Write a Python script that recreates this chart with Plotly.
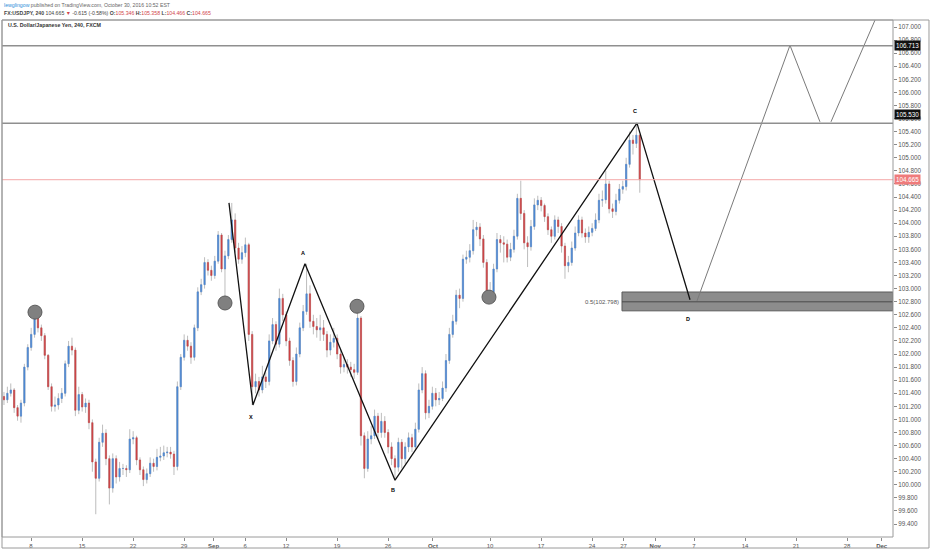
import plotly.graph_objects as go

# ---------------- data ----------------
# 8-hour bars on a trading-day axis (day 0 = Mon Aug 8, 2016)
BAR_START_DAY = -2.65
BARS_PER_DAY = 3
FIRST_OPEN = 101.35

close = [
    101.30, 101.40, 101.45, 101.18, 101.05, 101.25, 101.80, 102.10, 102.30, 102.55,
    102.40, 102.28, 101.98, 101.50, 101.20, 101.22, 101.32, 101.40, 101.85, 102.12,
    102.06, 101.14, 101.38, 101.19, 101.25, 100.95, 100.35, 100.10, 100.65, 100.79,
    100.40, 99.95, 100.40, 100.12, 100.25, 100.25, 100.23, 100.70, 100.72, 100.38,
    100.23, 100.08, 100.17, 100.33, 100.28, 100.42, 100.44, 100.49, 100.50, 100.47,
    100.28, 101.50, 101.95, 102.21, 102.12, 101.95, 102.40, 102.95, 103.06, 103.40,
    103.28, 103.20, 103.42, 103.82, 103.30, 103.50, 103.75, 104.05, 103.62, 103.45,
    103.55, 103.67, 102.30, 101.50, 101.58, 101.45, 101.65, 101.58, 102.20, 102.45,
    102.15, 102.85, 102.60, 102.20, 101.90, 101.58, 102.00, 102.40, 102.65, 102.92,
    102.50, 102.42, 102.37, 102.40, 102.30, 102.06, 102.18, 102.24, 102.00, 101.80,
    101.84, 101.80, 101.76, 101.72, 102.55, 100.75, 100.25, 100.70, 100.75, 101.05,
    100.80, 100.97, 100.80, 100.58, 100.40, 100.27, 100.65, 100.40, 100.58, 100.72,
    100.58, 100.85, 101.45, 101.70, 101.10, 101.20, 101.40, 101.30, 101.32, 101.48,
    101.90, 102.30, 102.50, 102.90, 102.85, 103.45, 103.48, 103.58, 103.90, 103.94,
    103.76, 103.40, 102.95, 102.95, 103.30, 103.75, 103.70, 103.68, 103.48, 103.60,
    103.80, 104.38, 104.15, 103.70, 103.64, 103.95, 104.28, 104.35, 104.27, 104.10,
    103.90, 103.80, 104.05, 103.95, 103.65, 103.35, 103.40, 103.62, 103.85, 104.05,
    103.85, 103.79, 103.86, 103.92, 104.05, 104.35, 104.36, 104.60, 104.22, 104.18,
    104.35, 104.52, 104.56, 104.90, 105.27, 105.22, 105.346, 104.665,
]
high = [
    101.42, 101.50, 101.55, 101.48, 101.22, 101.30, 101.85, 102.15, 102.40, 102.64,
    102.60, 102.45, 102.32, 102.00, 101.55, 101.35, 101.40, 101.48, 101.90, 102.20,
    102.25, 102.10, 101.50, 101.42, 101.32, 101.30, 101.00, 100.40, 100.72, 100.92,
    100.85, 100.45, 100.48, 100.45, 100.35, 100.32, 100.30, 100.85, 100.82, 100.75,
    100.42, 100.28, 100.25, 100.42, 100.40, 100.55, 100.58, 100.60, 100.58, 100.58,
    100.52, 101.58, 102.00, 102.30, 102.28, 102.18, 102.45, 103.02, 103.15, 103.48,
    103.45, 103.35, 103.50, 103.88, 103.85, 103.58, 103.82, 104.31, 104.15, 103.70,
    103.65, 103.78, 103.70, 102.35, 101.70, 101.65, 101.82, 101.72, 102.30, 102.55,
    102.50, 103.00, 102.92, 102.65, 102.25, 101.95, 102.10, 102.48, 102.75, 103.38,
    103.05, 102.60, 102.55, 102.60, 102.52, 102.35, 102.30, 102.40, 102.30, 102.08,
    101.95, 101.92, 101.88, 101.85, 102.73, 102.58, 100.80, 100.82, 100.90, 101.15,
    101.10, 101.10, 101.05, 100.85, 100.65, 100.45, 100.72, 100.70, 100.65, 100.80,
    100.78, 100.95, 101.55, 101.80, 101.75, 101.30, 101.50, 101.48, 101.42, 101.58,
    102.00, 102.40, 102.60, 102.98, 103.00, 103.52, 103.58, 103.68, 104.05, 104.02,
    104.00, 103.82, 103.45, 103.10, 103.38, 103.85, 103.82, 103.80, 103.75, 103.70,
    103.90, 104.45, 104.65, 104.20, 103.80, 104.05, 104.38, 104.42, 104.40, 104.30,
    104.15, 103.95, 104.12, 104.10, 104.00, 103.70, 103.50, 103.72, 103.95, 104.12,
    104.10, 103.92, 103.95, 104.00, 104.15, 104.45, 104.50, 104.80, 104.65, 104.30,
    104.45, 104.60, 104.65, 105.00, 105.40, 105.35, 105.53, 105.358,
]
low = [
    101.22, 101.25, 101.35, 101.10, 100.98, 100.95, 101.20, 101.75, 102.05, 102.25,
    102.33, 102.20, 101.92, 101.45, 101.12, 101.12, 101.15, 101.25, 101.35, 101.80,
    101.98, 101.05, 101.08, 101.12, 101.10, 100.85, 100.20, 99.55, 100.05, 100.58,
    100.30, 99.70, 99.88, 100.02, 100.05, 100.15, 100.12, 100.18, 100.62, 100.30,
    100.15, 99.98, 100.02, 100.12, 100.20, 100.22, 100.36, 100.38, 100.42, 100.40,
    100.15, 100.22, 101.45, 101.90, 102.05, 101.85, 101.90, 102.35, 102.90, 103.00,
    103.20, 103.12, 103.15, 103.38, 103.25, 102.87, 103.45, 103.70, 103.55, 103.38,
    103.38, 103.48, 102.20, 101.22, 101.40, 101.35, 101.40, 101.48, 101.52, 102.15,
    102.05, 102.10, 102.50, 102.12, 101.82, 101.50, 101.52, 101.95, 102.35, 102.60,
    102.40, 102.30, 102.25, 102.20, 102.20, 101.95, 101.98, 102.10, 101.92, 101.70,
    101.72, 101.70, 101.65, 101.62, 101.68, 100.60, 100.10, 100.20, 100.62, 100.70,
    100.70, 100.72, 100.72, 100.48, 100.30, 100.07, 100.20, 100.25, 100.32, 100.50,
    100.50, 100.52, 100.80, 101.40, 101.00, 101.02, 101.15, 101.20, 101.22, 101.28,
    101.42, 101.85, 102.25, 102.45, 102.70, 102.80, 103.38, 103.40, 103.52, 103.80,
    103.65, 103.32, 102.88, 102.87, 102.90, 103.25, 103.55, 103.40, 103.40, 103.42,
    103.55, 103.75, 104.05, 103.60, 103.33, 103.58, 103.90, 104.20, 104.18, 104.02,
    103.82, 103.70, 103.75, 103.85, 103.55, 103.15, 103.25, 103.35, 103.58, 103.80,
    103.78, 103.70, 103.70, 103.80, 103.88, 104.00, 104.25, 104.30, 104.15, 104.08,
    104.12, 104.30, 104.45, 104.50, 104.85, 105.05, 105.15, 104.466,
]

# x-axis tick labels on the trading-day axis
tick_days = [0, 5, 10, 15, 17.9, 21, 25, 30, 35, 39.4, 45, 50, 55, 58.1, 61.2, 65, 70, 75, 80, 83.4]
tick_text = ["8", "15", "22", "29", "<b>Sep</b>", "6", "12", "19", "26", "<b>Oct</b>",
             "10", "17", "24", "27", "<b>Nov</b>", "7", "14", "21", "28", "<b>Dec</b>"]

# XABCD harmonic pattern drawing
pattern_labels = ["", "X", "A", "B", "C", "D"]
pattern_days = [19.41, 21.76, 26.86, 35.69, 59.41, 64.61]
pattern_prices = [104.31, 101.22, 103.38, 100.07, 105.53, 102.83]

# projected path (thin grey lines)
proj1_days = [65.29, 74.41, 77.35]
proj1_prices = [102.81, 106.72, 105.55]
proj2_days = [78.43, 82.75]
proj2_prices = [105.55, 107.107]

# grey circle markers
circle_days = [0.39, 19.02, 31.96, 44.90]
circle_prices = [102.64, 102.78, 102.73, 102.87]

level_top = 106.713
level_c = 105.530
last_price = 104.665
fib_level = 102.798
zone_top, zone_bottom, zone_start = 102.948, 102.66, 57.94

X_RANGE = [-2.843, 84.51]
Y_RANGE = [99.202, 107.107]

# ---------------- figure ----------------
UP = "#4a86d4"
DOWN = "#cc4244"
WICK = "#bdbdbd"

n = len(close)
xs = [BAR_START_DAY + i / BARS_PER_DAY for i in range(n)]
opens = [FIRST_OPEN] + close[:-1]
body_hi = [max(o, c) for o, c in zip(opens, close)]
body_lo = [min(o, c) for o, c in zip(opens, close)]

fig = go.Figure()
fig.add_trace(go.Candlestick(
    x=xs, open=opens, high=high, low=low, close=close,
    increasing=dict(line=dict(color=WICK, width=1), fillcolor=WICK),
    decreasing=dict(line=dict(color=WICK, width=1), fillcolor=WICK),
    hoverinfo="skip", showlegend=False))
fig.add_trace(go.Candlestick(
    x=xs, open=opens, high=body_hi, low=body_lo, close=close,
    increasing=dict(line=dict(color=UP, width=0.5), fillcolor=UP),
    decreasing=dict(line=dict(color=DOWN, width=0.5), fillcolor=DOWN),
    hoverinfo="skip", showlegend=False))

# pattern lines
fig.add_trace(go.Scatter(x=pattern_days, y=pattern_prices, mode="lines",
                         line=dict(color="#111111", width=1.3), hoverinfo="skip", showlegend=False))
fig.add_trace(go.Scatter(x=proj1_days, y=proj1_prices, mode="lines",
                         line=dict(color="#7a7a7a", width=1), hoverinfo="skip", showlegend=False))
fig.add_trace(go.Scatter(x=proj2_days, y=proj2_prices, mode="lines",
                         line=dict(color="#7a7a7a", width=1), hoverinfo="skip", showlegend=False))
fig.add_trace(go.Scatter(x=circle_days, y=circle_prices, mode="markers",
                         marker=dict(size=14, color="#808080", line=dict(color="#5c5c5c", width=1)),
                         hoverinfo="skip", showlegend=False))

shapes = []
# horizontal levels
for lv, col, w in [(level_top, "#8f8f8f", 1.5), (level_c, "#8f8f8f", 1.5), (last_price, "#f4a7a7", 1)]:
    shapes.append(dict(type="line", xref="paper", x0=0, x1=1, yref="y", y0=lv, y1=lv,
                       line=dict(color=col, width=w), layer="above"))
# fib zone
shapes.append(dict(type="rect", xref="x", x0=zone_start, x1=X_RANGE[1], yref="y",
                   y0=zone_bottom, y1=zone_top, fillcolor="#8c8c8c",
                   line=dict(color="#5a5a5a", width=1), layer="below"))
shapes.append(dict(type="line", xref="x", x0=zone_start, x1=X_RANGE[1], yref="y",
                   y0=fib_level, y1=fib_level, line=dict(color="#4a4a4a", width=1)))
# pane borders
shapes.append(dict(type="rect", xref="paper", yref="paper", x0=0, x1=1, y0=0, y1=1,
                   line=dict(color="#9a9a9a", width=1), fillcolor="rgba(0,0,0,0)"))
shapes.append(dict(type="rect", xref="paper", yref="paper", x0=0, x1=1.0404, y0=-0.0213, y1=1,
                   line=dict(color="#9a9a9a", width=1), fillcolor="rgba(0,0,0,0)"))

ann = []
FONT = "Liberation Sans"
# header
ann.append(dict(xref="paper", yref="paper", x=0.0, y=1.029, xanchor="left", yanchor="middle",
                showarrow=False, font=dict(family=FONT, size=5.2, color="#666666"),
                text="<span style='color:#2f8dd8'>lewglingow</span> published on TradingView.com, October 30, 2016 10:52 EST"))
R = "#d0454a"
ann.append(dict(xref="paper", yref="paper", x=0.0, y=1.0135, xanchor="left", yanchor="middle",
                showarrow=False, font=dict(family=FONT, size=5.2, color="#444444"),
                text=(f"<b>FX:USDJPY, 240</b> 104.665 <span style='color:{R}'>▼</span> -0.615 (-0.58%) "
                      f"<b>O:</b><span style='color:{R}'>105.346</span> <b>H:</b><span style='color:{R}'>105.358</span> "
                      f"<b>L:</b><span style='color:{R}'>104.466</span> <b>C:</b><span style='color:{R}'>104.665</span>")))
ann.append(dict(xref="paper", yref="paper", x=0.0045, y=0.9903, xanchor="left", yanchor="middle",
                showarrow=False, font=dict(family=FONT, size=5.3, color="#333333"),
                text="<b>U.S. Dollar/Japanese Yen, 240, FXCM</b>"))
# pattern labels
offsets = {"X": -12, "A": 11, "B": -10, "C": 12, "D": -19}
for lab, d, p in zip(pattern_labels, pattern_days, pattern_prices):
    if lab:
        ann.append(dict(x=d, y=p, xref="x", yref="y", text=f"<b>{lab}</b>", showarrow=False,
                        yshift=offsets[lab], xshift=-2, font=dict(family=FONT, size=5.5, color="#000000")))
# fib label
ann.append(dict(x=zone_start, y=fib_level, xref="x", yref="y", xanchor="right", yanchor="middle",
                text=f"0.5({fib_level:.3f})", showarrow=False, xshift=-1,
                font=dict(family=FONT, size=6, color="#555555")))
# right axis price boxes
for txt, yv, bg in [(f"{level_top:.3f}", level_top, "#111111"),
                    (f"{level_c:.3f}", 105.66, "#111111"),
                    (f"{last_price:.3f}", last_price, "#ef7b7b")]:
    ann.append(dict(xref="paper", x=1.0, y=yv, yref="y", xanchor="left", yanchor="middle",
                    text=txt, showarrow=False, bgcolor=bg, borderpad=1, xshift=1,
                    font=dict(family=FONT, size=6.3, color="#ffffff")))

fig.update_layout(
    width=932, height=550,
    margin=dict(l=2, r=39, t=20, b=13),
    paper_bgcolor="white", plot_bgcolor="white",
    boxgap=0.5,
    shapes=shapes, annotations=ann, showlegend=False,
    xaxis=dict(range=X_RANGE, rangeslider=dict(visible=False), showgrid=False, zeroline=False,
               tickmode="array", tickvals=tick_days, ticktext=tick_text,
               ticks="outside", ticklen=3, tickcolor="#8a8a8a",
               tickfont=dict(family=FONT, size=6, color="#555555"), showline=False),
    yaxis=dict(range=Y_RANGE, side="right", showgrid=False, zeroline=False,
               tick0=99.4, dtick=0.2, tickformat=".3f",
               ticks="outside", ticklen=3, tickcolor="#8a8a8a",
               tickfont=dict(family=FONT, size=6.3, color="#555555"), showline=False),
)

fig.write_html("out.html", config={"displayModeBar": False},
               post_script="document.body.style.margin='0';document.body.style.overflow='hidden';")
